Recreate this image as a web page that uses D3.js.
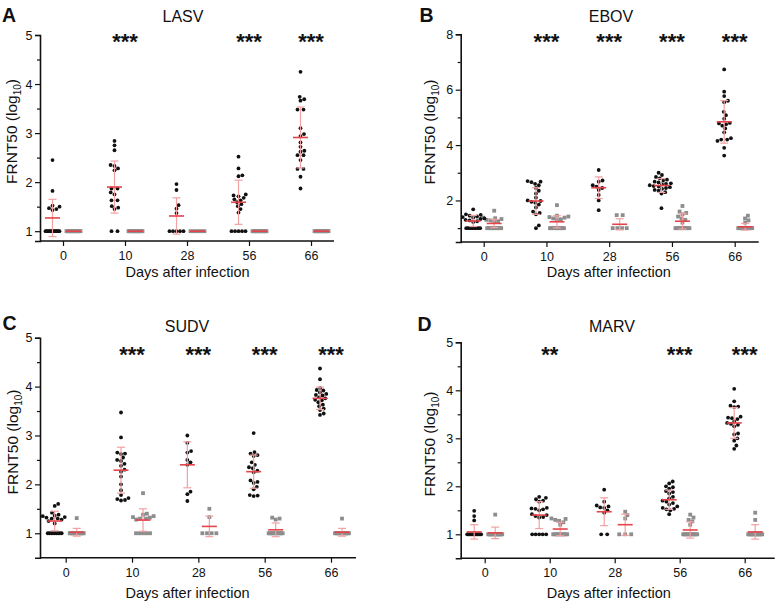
<!DOCTYPE html>
<html><head><meta charset="utf-8">
<script src="https://cdn.jsdelivr.net/npm/d3@7"></script>
<style>
body{margin:0;background:#fff}
svg{display:block}
text{font-family:"Liberation Sans",Arial,Helvetica,sans-serif;fill:#111}
</style>
</head><body>
<svg id="chart" width="776" height="613"></svg>
<script>
// ---------------- DATA ----------------
const days = ["0", "10", "28", "56", "66"];

// LASV
const lasvInfected = [
  [1,1,1,1,1,1,1,1,1,1,1,1,1,1,1.43,1.45,1.47,1.5,1.52,1.82,2.45],
  [2.84,2.75,2.65,2.33,2.35,2.28,2.24,1.87,1.87,1.79,1.75,1.63,1.63,1.51,1.48,1.45,1,1],
  [1.96,1.84,1.53,1.46,1.37,1,1,1,1,1],
  [2.52,2.28,2.14,2.12,1.75,1.73,1.71,1.68,1.65,1.63,1.59,1.55,1.51,1.45,1.38,1,1,1,1,1],
  [4.25,3.74,3.69,3.66,3.48,3.48,3.10,2.98,2.94,2.81,2.72,2.64,2.62,2.55,2.55,2.45,2.27,2.27,2.11,1.87]
];
const lasvControl = [
  [1,1,1,1,1,1,1,1,1,1,1,1,1,1,1,1],
  [1,1,1,1,1,1,1,1,1,1,1,1,1,1,1,1],
  [1,1,1,1,1,1],
  [1,1,1,1,1,1,1,1,1,1,1,1,1,1,1,1],
  [1,1,1,1,1,1,1,1,1,1,1,1,1,1,1,1]
];
const lasvInfMean = [1.27, 1.90, 1.31, 1.59, 2.91];
const lasvInfSD   = [0.38, 0.53, 0.37, 0.45, 0.62];
const lasvCtlMean = [1, 1, 1, 1, 1];
const lasvCtlSD   = [0, 0, 0, 0, 0];
const lasvStars   = ["", "***", "", "***", "***"];

// EBOV
const ebovInfected = [
  [1.68,1.5,1.48,1.45,1.42,1.4,1.38,1.35,1.33,1.3,1.28,1.25,1.22,1,1,1,1,1,1,1,1,1],
  [2.70,2.68,2.66,2.60,2.55,2.45,2.35,2.25,2.1,2.0,1.98,1.95,1.92,1.85,1.75,1.6,1.55,1.5,1.1,1.0],
  [3.1,2.72,2.68,2.55,2.5,2.45,2.38,2.2,2.0,1.65],
  [3.0,2.92,2.85,2.8,2.75,2.72,2.68,2.65,2.62,2.6,2.58,2.55,2.52,2.5,2.48,2.45,2.42,2.38,2.35,2.3,2.25,1.72],
  [6.73,5.93,5.77,5.6,5.55,5.2,5.08,4.95,4.8,4.78,4.75,4.7,4.6,4.46,4.25,4.2,4.2,4.15,3.9,3.62]
];
const ebovControl = [
  [1.63,1.38,1.36,1.33,1.3,1.28,1.25,1.22,1,1,1,1,1,1,1,1,1,1,1,1],
  [1.83,1.45,1.42,1.4,1.38,1.35,1.32,1.3,1,1,1,1,1,1,1,1,1,1,1,1],
  [1.47,1.47,1,1,1,1],
  [1.8,1.6,1.55,1.5,1.42,1.35,1.3,1.2,1,1,1,1,1,1,1,1,1,1,1,1],
  [1.45,1.35,1.28,1.2,1,1,1,1,1,1,1,1,1,1,1,1,1,1,1,1]
];
const ebovInfMean = [1.26, 1.98, 2.46, 2.54, 4.84];
const ebovInfSD   = [0.20, 0.48, 0.39, 0.25, 0.77];
const ebovCtlMean = [1.17, 1.23, 1.14, 1.25, 1.05];
const ebovCtlSD   = [0.15, 0.22, 0.20, 0.28, 0.12];
const ebovStars   = ["", "***", "***", "***", "***"];

// SUDV
const sudvInfected = [
  [1.6,1.56,1.42,1.38,1.36,1.35,1.33,1.32,1.3,1.3,1.28,1.25,1.2,1,1,1,1,1,1,1,1,1],
  [3.47,2.96,2.65,2.63,2.62,2.55,2.5,2.48,2.42,2.38,2.3,2.26,2.16,2.0,1.88,1.78,1.72,1.7,1.68,1.67],
  [3.0,2.85,2.68,2.65,2.5,2.45,2.4,1.85,1.8,1.66],
  [3.05,2.66,2.63,2.6,2.58,2.45,2.4,2.35,2.33,2.28,2.25,2.08,2.05,2.03,1.95,1.9,1.78,1.77,1.76],
  [4.37,4.15,3.97,3.93,3.92,3.88,3.85,3.83,3.82,3.78,3.76,3.73,3.72,3.68,3.63,3.6,3.55,3.52,3.45,3.42]
];
const sudvControl = [
  [1.31,1,1,1,1,1,1,1,1,1,1,1,1,1,1],
  [1.82,1.4,1.38,1.35,1.33,1.32,1.3,1.3,1.28,1,1,1,1,1],
  [1.5,1.33,1,1,1,1],
  [1.32,1.3,1.28,1,1,1,1,1,1,1,1,1,1,1,1],
  [1.3,1,1,1,1,1,1,1,1,1,1,1,1,1,1]
];
const sudvInfMean = [1.25, 2.29, 2.40, 2.26, 3.76];
const sudvInfSD   = [0.20, 0.47, 0.47, 0.34, 0.23];
const sudvCtlMean = [1.02, 1.27, 1.14, 1.07, 1.02];
const sudvCtlSD   = [0.08, 0.23, 0.21, 0.14, 0.08];
const sudvStars   = ["", "***", "***", "***", "***"];

// MARV
const marvInfected = [
  [1.49,1.38,1.29,1,1,1,1,1,1,1,1,1,1,1,1,1,1,1],
  [1.78,1.76,1.73,1.7,1.68,1.55,1.54,1.53,1.52,1.5,1.42,1.4,1.38,1.36,1.35,1,1,1,1,1],
  [1.93,1.68,1.6,1.58,1.56,1.55,1.5,1.45,1,1],
  [2.1,2.06,2.0,1.98,1.95,1.9,1.88,1.85,1.78,1.75,1.7,1.68,1.65,1.62,1.58,1.55,1.53,1.52,1.5,1.42],
  [4.03,3.77,3.68,3.66,3.65,3.45,3.43,3.42,3.4,3.35,3.32,3.3,3.28,3.25,3.1,3.08,3.0,2.95,2.85,2.78]
];
const marvControl = [
  [1.41,1,1,1,1,1,1,1,1,1,1,1,1,1,1,1],
  [1.33,1.32,1.3,1.28,1.25,1.2,1,1,1,1,1,1,1,1,1,1],
  [1.47,1.4,1.33,1,1,1],
  [1.41,1.35,1.3,1.27,1.2,1,1,1,1,1,1,1,1,1,1,1,1],
  [1.45,1.3,1,1,1,1,1,1,1,1,1,1,1,1,1,1]
];
const marvInfMean = [1.05, 1.40, 1.47, 1.72, 3.32];
const marvInfSD   = [0.15, 0.28, 0.29, 0.20, 0.32];
const marvCtlMean = [1.03, 1.11, 1.20, 1.09, 1.05];
const marvCtlSD   = [0.12, 0.14, 0.22, 0.17, 0.15];
const marvStars   = ["", "**", "", "***", "***"];

const yLabelText = "FRNT50 (log";
const xLabelText = "Days after infection";

// ---------------- LAYOUT ----------------
const panels = [
  {letter:"A", title:"LASV", inf:lasvInfected, ctl:lasvControl, im:lasvInfMean, isd:lasvInfSD, cm:lasvCtlMean, csd:lasvCtlSD, stars:lasvStars,
   left:40, right:334, xr:[63,311], yd:[0.8,5], yr:[241,35], major:[1,2,3,4,5], minor:[1.5,2.5,3.5,4.5],
   title_xy:[183,21.7], letter_xy:[2,21.7], ylab_xy:[16.5,131.5], xlab_xy:[187.5,277], starY:36, off:10.5},
  {letter:"B", title:"EBOV", inf:ebovInfected, ctl:ebovControl, im:ebovInfMean, isd:ebovInfSD, cm:ebovCtlMean, csd:ebovCtlSD, stars:ebovStars,
   left:460.7, right:758.7, xr:[483.7,734.7], yd:[0.5,8], yr:[242,34.3], major:[2,4,6,8], minor:[1,3,5,7],
   title_xy:[611,21.7], letter_xy:[419.5,21.7], ylab_xy:[434.5,132], xlab_xy:[608.8,277], starY:36, off:10.5},
  {letter:"C", title:"SUDV", inf:sudvInfected, ctl:sudvControl, im:sudvInfMean, isd:sudvInfSD, cm:sudvCtlMean, csd:sudvCtlSD, stars:sudvStars,
   left:40, right:356, xr:[65.7,331], yd:[0.5,5], yr:[557.7,337.7], major:[1,2,3,4,5], minor:[1.5,2.5,3.5,4.5],
   title_xy:[187,331.5], letter_xy:[2.5,330], ylab_xy:[17.5,442], xlab_xy:[187.5,598], starY:349, off:11},
  {letter:"D", title:"MARV", inf:marvInfected, ctl:marvControl, im:marvInfMean, isd:marvInfSD, cm:marvCtlMean, csd:marvCtlSD, stars:marvStars,
   left:460.7, right:774.7, xr:[484.7,744.7], yd:[0.5,5], yr:[558.3,342.3], major:[1,2,3,4,5], minor:[1.5,2.5,3.5,4.5],
   title_xy:[612,331.5], letter_xy:[417.5,330.5], ylab_xy:[434.5,444], xlab_xy:[608.8,598.3], starY:349, off:10.5}
];

const svg = d3.select("#chart");
const MEAN_COL = "#e4444a", SD_COL = "#f2a0a2";

function swarm(values, y, d, maxW) {
  const counts = d3.rollup(values, v => v.length, v => v);
  const placed = [];
  for (const [v, n] of counts) if (n >= 2) {
    const sp = Math.min(6, maxW / (n - 1));
    for (let i = 0; i < n; i++) placed.push({v, y: y(v), x: (i - (n - 1) / 2) * sp});
  }
  const singles = values.filter(v => counts.get(v) === 1).sort((a, b) => a - b);
  for (const v of singles) {
    const py = y(v);
    const near = placed.filter(p => Math.abs(p.y - py) < d);
    const cands = [0];
    for (const p of near) {
      const dx = Math.sqrt(d * d - (p.y - py) ** 2);
      cands.push(p.x + dx, p.x - dx);
    }
    cands.sort((a, b) => Math.abs(a) - Math.abs(b));
    let x = 0;
    for (const c of cands) {
      if (near.every(p => (p.x - c) ** 2 + (p.y - py) ** 2 >= d * d - 1e-6)) { x = c; break; }
    }
    placed.push({v, y: py, x});
  }
  return placed;
}

function errorBar(g, cx, y, mean, sd) {
  if (sd > 0) {
    g.append("line").attr("x1", cx).attr("x2", cx).attr("y1", y(mean - sd)).attr("y2", y(mean + sd))
      .attr("stroke", SD_COL).attr("stroke-width", 1.2);
    [mean - sd, mean + sd].forEach(v => {
      g.append("line").attr("x1", cx - 4).attr("x2", cx + 4).attr("y1", y(v)).attr("y2", y(v))
        .attr("stroke", SD_COL).attr("stroke-width", 1.2);
    });
  }
  g.append("line").attr("x1", cx - 7.5).attr("x2", cx + 7.5).attr("y1", y(mean)).attr("y2", y(mean))
    .attr("stroke", MEAN_COL).attr("stroke-width", 1.6);
}

panels.forEach(p => {
  const g = svg.append("g");
  const x = d3.scalePoint().domain(days).range(p.xr);
  const y = d3.scaleLinear().domain(p.yd).range(p.yr);

  // axes
  const yMinorAxis = d3.axisLeft(y).tickValues(p.minor).tickSize(3).tickFormat("");
  g.append("g").attr("transform", `translate(${p.left},0)`).call(yMinorAxis)
    .call(s => s.select(".domain").remove())
    .call(s => s.selectAll("line").attr("stroke", "#111").attr("stroke-width", 1.2));
  const yAxis = d3.axisLeft(y).tickValues(p.major).tickSize(5).tickPadding(2.5).tickFormat(d3.format("d"));
  g.append("g").attr("transform", `translate(${p.left},0)`).call(yAxis)
    .call(s => s.select(".domain").attr("stroke", "#111").attr("stroke-width", 1.6))
    .call(s => s.selectAll("line").attr("stroke", "#111").attr("stroke-width", 1.2))
    .call(s => s.selectAll("text").attr("font-size", 12.5).attr("fill", "#111")
      .style("font-family", '"Liberation Sans",Arial,sans-serif'));

  const xAxis = d3.axisBottom(x).tickSize(5).tickPadding(5).tickSizeOuter(0);
  const xg = g.append("g").attr("transform", `translate(0,${p.yr[0]})`).call(xAxis);
  xg.select(".domain").attr("d", `M${p.left},0H${p.right}`).attr("stroke", "#111").attr("stroke-width", 1.6);
  xg.selectAll("line").attr("stroke", "#111").attr("stroke-width", 1.2);
  xg.selectAll("text").attr("font-size", 12.5).attr("fill", "#111")
    .style("font-family", '"Liberation Sans",Arial,sans-serif');

  // points
  days.forEach((day, i) => {
    const cxI = x(day) - p.off, cxC = x(day) + p.off;
    const ctlPts = swarm(p.ctl[i], y, 4.0, 14);
    g.append("g").selectAll("rect").data(ctlPts).join("rect")
      .attr("x", d => cxC + d.x - 1.9).attr("y", d => d.y - 1.9)
      .attr("width", 3.8).attr("height", 3.8).attr("fill", "#8d8d8d");
    const infPts = swarm(p.inf[i], y, 4.0, 14);
    g.append("g").selectAll("circle").data(infPts).join("circle")
      .attr("cx", d => cxI + d.x).attr("cy", d => d.y).attr("r", 1.9).attr("fill", "#111");
    errorBar(g, cxI, y, p.im[i], p.isd[i]);
    errorBar(g, cxC, y, p.cm[i], p.csd[i]);
    if (p.stars[i]) {
      g.append("text").attr("x", x(day)).attr("y", p.starY + 12.5)
        .attr("text-anchor", "middle").attr("font-size", 22).attr("font-weight", "bold")
        .text(p.stars[i]);
    }
  });

  // texts
  g.append("text").attr("x", p.title_xy[0]).attr("y", p.title_xy[1]).attr("text-anchor", "middle")
    .attr("font-size", 16).text(p.title);
  g.append("text").attr("x", p.letter_xy[0]).attr("y", p.letter_xy[1])
    .attr("font-size", 19.5).attr("font-weight", "bold").text(p.letter);
  const yl = g.append("text").attr("transform", `translate(${p.ylab_xy[0]},${p.ylab_xy[1]}) rotate(-90)`)
    .attr("text-anchor", "middle").attr("font-size", 15.5);
  yl.append("tspan").text(yLabelText);
  yl.append("tspan").attr("font-size", 10).attr("dy", 4).text("10");
  yl.append("tspan").attr("dy", -4).text(")");
  g.append("text").attr("x", p.xlab_xy[0]).attr("y", p.xlab_xy[1]).attr("text-anchor", "middle")
    .attr("font-size", 14.5).text(xLabelText);
});
</script>
</body></html>
